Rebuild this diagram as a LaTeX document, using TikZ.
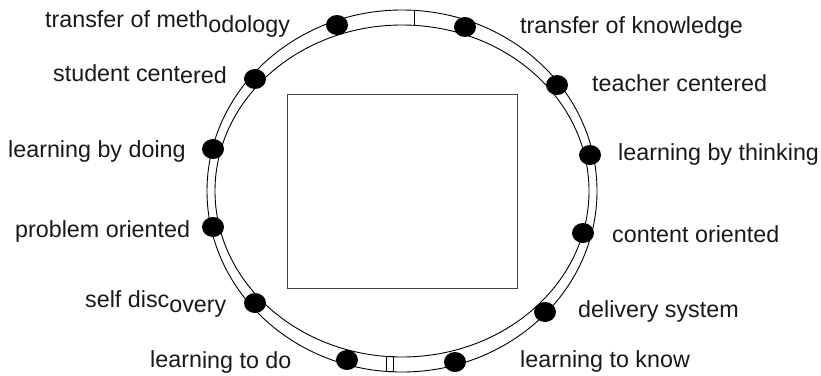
\documentclass[tikz,border=0pt]{standalone}
\usepackage{fontspec}
\setmainfont{Liberation Sans}
\usetikzlibrary{shapes.geometric}
\begin{document}
\begin{tikzpicture}[x=1pt,y=-1pt,
  dot/.style={ellipse,fill=black,inner sep=0pt,minimum width=22pt,minimum height=20pt},
  lab/.style={anchor=base west,inner sep=0pt,text=black!90,font=\fontsize{23.3}{28}\selectfont},
  ringline/.style={line width=0.9pt,black},
  boxst/.style={draw=black!75,line width=0.9pt,minimum width=230pt,minimum height=194pt,inner sep=0pt}]
\useasboundingbox (0,0) rectangle (821,375);
% ring
\coordinate (c) at (402,191);
\draw[ringline] (c) ellipse [x radius=195pt, y radius=181pt];
\draw[ringline] (c) ellipse [x radius=187pt, y radius=166pt];
\coordinate (tA) at (414,10.4);
\coordinate (tB) at (414,25.4);
\draw[ringline] (tA) -- (tB);
\coordinate (bA) at (386,356.6);
\coordinate (bB) at (393,371.8);
\draw[ringline] (bA) rectangle (bB);
% central box
\node[boxst] (box) at (402,191) {};
% dots
\node[dot] (d1) at (337,25) {};
\node[dot] (d2) at (255,79) {};
\node[dot] (d3) at (213,149) {};
\node[dot] (d4) at (213,227) {};
\node[dot] (d5) at (255,303) {};
\node[dot] (d6) at (347,360) {};
\node[dot] (d7) at (465,27) {};
\node[dot] (d8) at (557,85) {};
\node[dot] (d9) at (590,155) {};
\node[dot] (d10) at (583,233) {};
\node[dot] (d11) at (545,312) {};
\node[dot] (d12) at (455,362) {};
% labels
\node[lab] (l1) at (45,27) {transfer of meth\raisebox{-5pt}{odology}};
\node[lab] (l2) at (53,81) {student cent\raisebox{-2pt}{ered}};
\node[lab] (l3) at (8,157) {learning by doing};
\node[lab] (l4) at (15,237) {problem oriented};
\node[lab] (l5) at (85,307) {self disc\raisebox{-5pt}{overy}};
\node[lab] (l6) at (150,367) {learn\raisebox{-1.5pt}{ing to do}};
\node[lab] (l7) at (520,33) {transfer of knowledge};
\node[lab] (l8) at (592,91) {teacher centered};
\node[lab] (l9) at (618,160) {learning by thinking};
\node[lab] (l10) at (612,242) {content oriented};
\node[lab] (l11) at (578,317) {delivery system};
\node[lab] (l12) at (520,367) {learning to know};
\end{tikzpicture}
\end{document}
